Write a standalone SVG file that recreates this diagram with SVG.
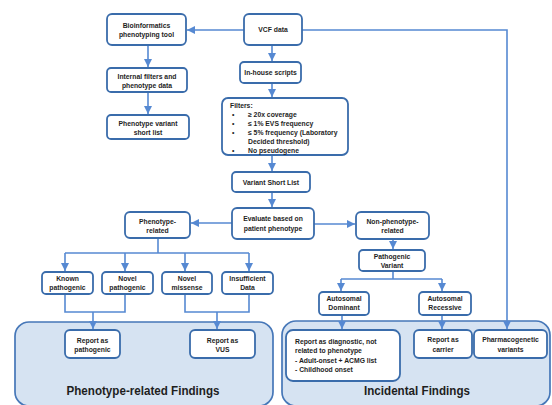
<svg xmlns="http://www.w3.org/2000/svg" width="552" height="405" viewBox="0 0 552 405">
<defs>
<style>
.box{fill:#fff;stroke:#3a6cab;stroke-width:1.8}
.panel{fill:#d6e3f2;stroke:#4677b8;stroke-width:1.7}
.t{font-family:"Liberation Sans",Arial,sans-serif;font-size:6.8px;font-weight:bold;fill:#1e1e1e;text-anchor:middle}
.tl{font-family:"Liberation Sans",Arial,sans-serif;font-size:6.8px;font-weight:bold;fill:#1e1e1e}
.big{font-family:"Liberation Sans",Arial,sans-serif;font-size:13.5px;font-weight:bold;fill:#1e1e1e;text-anchor:middle}
.c{fill:none;stroke:#5689d2;stroke-width:1.6}
</style>
<marker id="ah" markerUnits="userSpaceOnUse" markerWidth="8" markerHeight="8" viewBox="0 0 8 8" refX="8" refY="4" orient="auto">
<path d="M0,0 L8,4 L0,8 z" fill="#5689d2"/>
</marker>
</defs>
<rect width="552" height="405" fill="#fff"/>

<g id="panel-phenotype">
<rect class="panel" x="15" y="322" width="258" height="84" rx="14"/>
<text class="big" x="143" y="395" textLength="153" lengthAdjust="spacingAndGlyphs">Phenotype-related Findings</text>
</g>
<g id="panel-incidental">
<rect class="panel" x="282" y="321" width="268" height="85" rx="14"/>
<text class="big" x="417" y="395" textLength="106" lengthAdjust="spacingAndGlyphs">Incidental Findings</text>
</g>

<g id="connectors">
<path class="c" d="M244,30 H187" marker-end="url(#ah)"/>
<path class="c" d="M302,30 H507 V329" marker-end="url(#ah)"/>
<path class="c" d="M272,45 V61" marker-end="url(#ah)"/>
<path class="c" d="M272,83 V97" marker-end="url(#ah)"/>
<path class="c" d="M272,155 V171" marker-end="url(#ah)"/>
<path class="c" d="M272,192 V207" marker-end="url(#ah)"/>
<path class="c" d="M148,45 V67" marker-end="url(#ah)"/>
<path class="c" d="M148,92 V114" marker-end="url(#ah)"/>
<path class="c" d="M232,223 H191" marker-end="url(#ah)"/>
<path class="c" d="M314,224 H355" marker-end="url(#ah)"/>
<path class="c" d="M158,238 V253"/>
<path class="c" d="M65,253 H249"/>
<path class="c" d="M65,253 V271" marker-end="url(#ah)"/>
<path class="c" d="M125,253 V271" marker-end="url(#ah)"/>
<path class="c" d="M185,253 V271" marker-end="url(#ah)"/>
<path class="c" d="M249,253 V271" marker-end="url(#ah)"/>
<path class="c" d="M65,294 V312 H125 V294"/>
<path class="c" d="M93,312 V329" marker-end="url(#ah)"/>
<path class="c" d="M185,294 V312 H249 V294"/>
<path class="c" d="M217,312 V329" marker-end="url(#ah)"/>
<path class="c" d="M393,239 V249" marker-end="url(#ah)"/>
<path class="c" d="M393,271 V279"/>
<path class="c" d="M341,279 H442"/>
<path class="c" d="M341,279 V291" marker-end="url(#ah)"/>
<path class="c" d="M442,279 V291" marker-end="url(#ah)"/>
<path class="c" d="M342,315 V329" marker-end="url(#ah)"/>
<path class="c" d="M442,315 V329" marker-end="url(#ah)"/>
</g>

<g id="bioinformatics">
<rect class="box" x="107" y="14" width="79" height="31" rx="5"/>
<text class="t" x="146.5" y="27.5">Bioinformatics</text>
<text class="t" x="146.5" y="37">phenotyping tool</text>
</g>
<g id="vcf">
<rect class="box" x="244" y="14" width="58" height="31" rx="5"/>
<text class="t" x="273" y="32">VCF data</text>
</g>
<g id="internal-filters">
<rect class="box" x="107" y="68" width="80" height="24" rx="4"/>
<text class="t" x="147" y="78.5">Internal filters and</text>
<text class="t" x="147" y="87.5">phenotype data</text>
</g>
<g id="phenotype-variant-list">
<rect class="box" x="107" y="115" width="82" height="24" rx="4"/>
<text class="t" x="148" y="125.5">Phenotype variant</text>
<text class="t" x="148" y="135">short list</text>
</g>
<g id="in-house">
<rect class="box" x="240" y="62" width="61" height="21" rx="4"/>
<text class="t" x="270.5" y="75">In-house scripts</text>
</g>
<g id="filters">
<rect class="box" x="222" y="98" width="126" height="57" rx="6"/>
<text class="tl" x="230" y="107.5">Filters:</text>
<text class="tl" x="232" y="117">•</text><text class="tl" x="248" y="117">≥ 20x coverage</text>
<text class="tl" x="232" y="126">•</text><text class="tl" x="248" y="126">≤ 1% EVS frequency</text>
<text class="tl" x="232" y="135">•</text><text class="tl" x="248" y="135">≤ 5% frequency (Laboratory</text>
<text class="tl" x="248" y="144">Decided threshold)</text>
<text class="tl" x="232" y="153">•</text><text class="tl" x="248" y="153">No pseudogene</text>
</g>
<g id="variant-short-list">
<rect class="box" x="232" y="172" width="78" height="20" rx="4"/>
<text class="t" x="271" y="184.5">Variant Short List</text>
</g>
<g id="evaluate">
<rect class="box" x="232" y="208" width="82" height="31" rx="5"/>
<text class="t" x="273" y="221">Evaluate based on</text>
<text class="t" x="273" y="230.5">patient phenotype</text>
</g>
<g id="phenotype-related">
<rect class="box" x="125" y="212" width="65" height="26" rx="5"/>
<text class="t" x="157.5" y="224">Phenotype-</text>
<text class="t" x="157.5" y="233">related</text>
</g>
<g id="non-phenotype-related">
<rect class="box" x="356" y="212" width="73" height="27" rx="5"/>
<text class="t" x="392.5" y="224">Non-phenotype-</text>
<text class="t" x="392.5" y="233">related</text>
</g>
<g id="pathogenic-variant">
<rect class="box" x="359" y="250" width="66" height="21" rx="4"/>
<text class="t" x="392" y="258.5">Pathogenic</text>
<text class="t" x="392" y="267.5">Variant</text>
</g>
<g id="known-pathogenic">
<rect class="box" x="42" y="272" width="51" height="22" rx="4"/>
<text class="t" x="67.5" y="280.5">Known</text>
<text class="t" x="67.5" y="289.5">pathogenic</text>
</g>
<g id="novel-pathogenic">
<rect class="box" x="102" y="272" width="51" height="22" rx="4"/>
<text class="t" x="127.5" y="280.5">Novel</text>
<text class="t" x="127.5" y="289.5">pathogenic</text>
</g>
<g id="novel-missense">
<rect class="box" x="162" y="272" width="50" height="22" rx="4"/>
<text class="t" x="187" y="280.5">Novel</text>
<text class="t" x="187" y="289.5">missense</text>
</g>
<g id="insufficient-data">
<rect class="box" x="222" y="272" width="51" height="22" rx="4"/>
<text class="t" x="247.5" y="280.5">Insufficient</text>
<text class="t" x="247.5" y="289.5">Data</text>
</g>
<g id="autosomal-dominant">
<rect class="box" x="319" y="292" width="50" height="23" rx="4"/>
<text class="t" x="344" y="300.5">Autosomal</text>
<text class="t" x="344" y="310">Dominant</text>
</g>
<g id="autosomal-recessive">
<rect class="box" x="419" y="292" width="52" height="23" rx="4"/>
<text class="t" x="445" y="300.5">Autosomal</text>
<text class="t" x="445" y="310">Recessive</text>
</g>
<g id="report-pathogenic">
<rect class="box" x="65" y="330" width="55" height="28" rx="5"/>
<text class="t" x="92.5" y="343">Report as</text>
<text class="t" x="92.5" y="352">pathogenic</text>
</g>
<g id="report-vus">
<rect class="box" x="190" y="330" width="65" height="28" rx="5"/>
<text class="t" x="222.5" y="343">Report as</text>
<text class="t" x="222.5" y="352">VUS</text>
</g>
<g id="report-diagnostic">
<rect class="box" x="286" y="330" width="114" height="51" rx="7"/>
<text class="tl" x="295" y="344">Report as diagnostic, not</text>
<text class="tl" x="295" y="353">related to phenotype</text>
<text class="tl" x="295" y="363">- Adult-onset + ACMG list</text>
<text class="tl" x="295" y="372">- Childhood onset</text>
</g>
<g id="report-carrier">
<rect class="box" x="414" y="330" width="58" height="28" rx="5"/>
<text class="t" x="443" y="342">Report as</text>
<text class="t" x="443" y="351.5">carrier</text>
</g>
<g id="pharmacogenetic">
<rect class="box" x="474" y="330" width="73" height="28" rx="5"/>
<text class="t" x="510.5" y="342">Pharmacogenetic</text>
<text class="t" x="510.5" y="351.5">variants</text>
</g>
</svg>
